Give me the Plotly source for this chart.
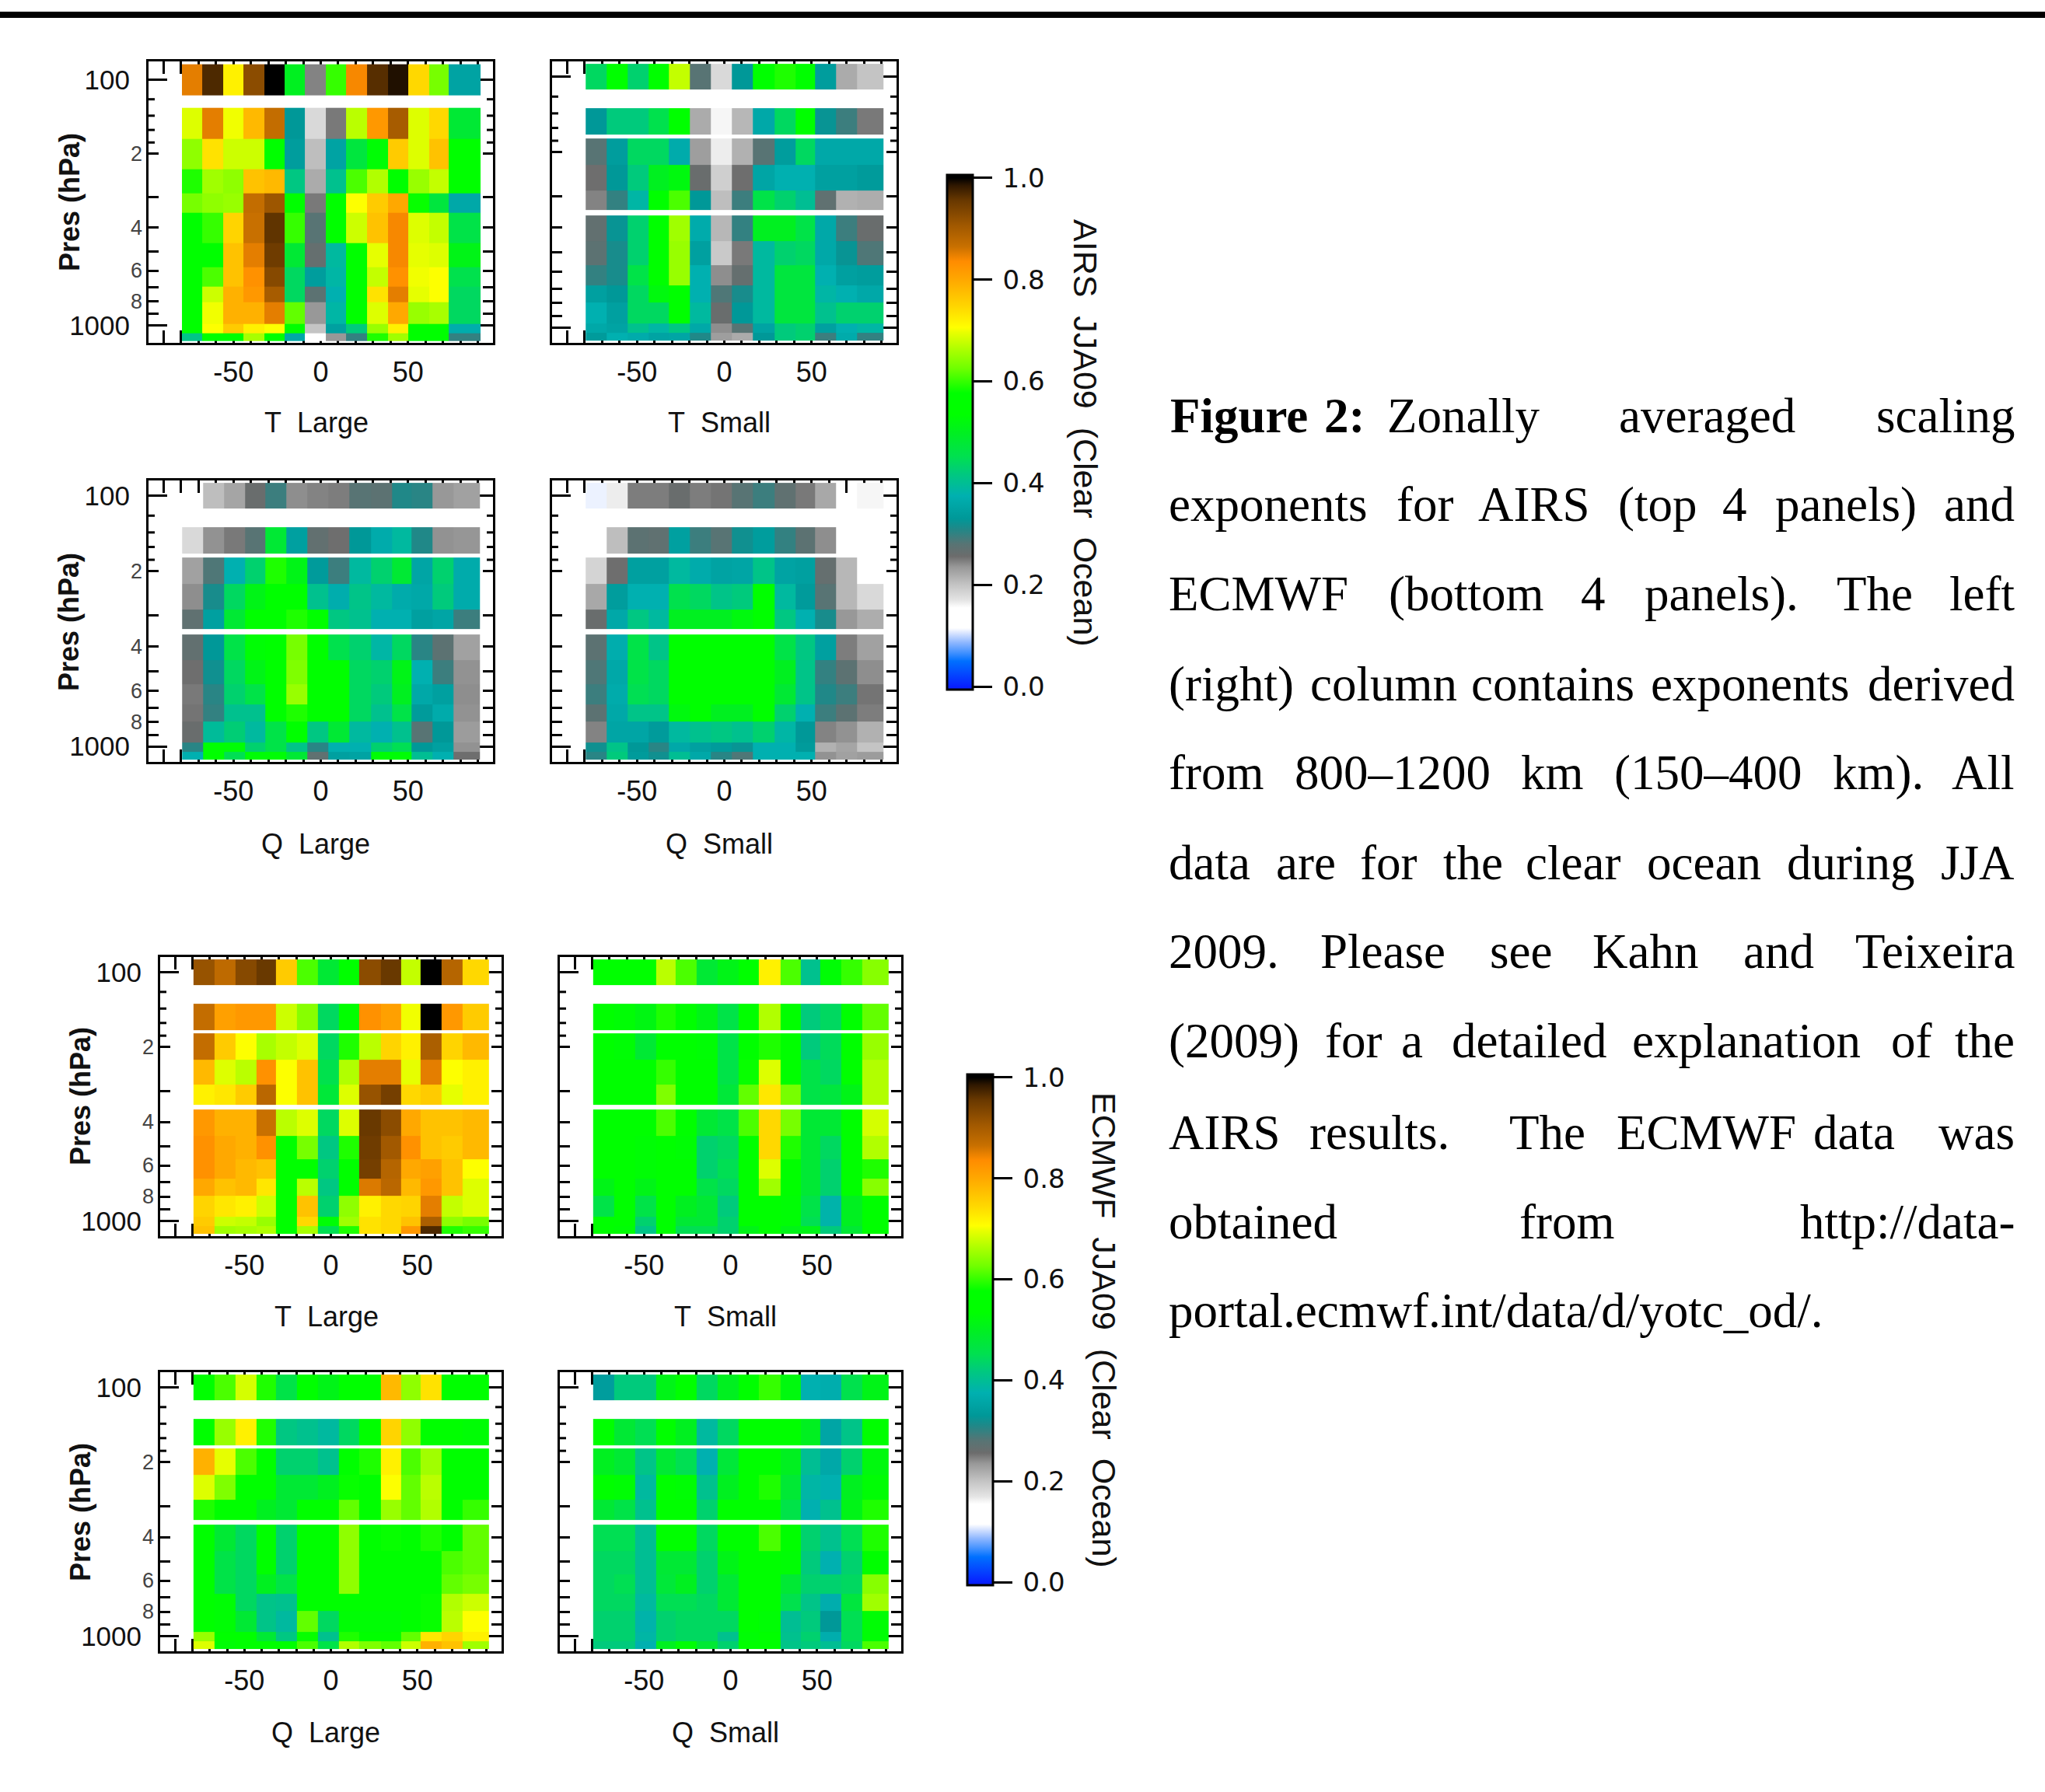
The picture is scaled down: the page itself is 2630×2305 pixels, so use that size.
import math
import plotly.graph_objects as go

W, H = 2630, 2305

LAT_EDGES = [-79.4,-67.3,-55.2,-43.2,-31.7,-19.7,-7.6,4.5,16.5,28.7,40.7,52,64,76.2,91.4]
LAT_EDGES_TL = [-79.5,-68,-56,-44.5,-32.5,-20.5,-9,3,14.5,26.5,38.5,50,62,73.5,91.5]
ROW_BOUNDS = [(88.8,112.7),(133.8,170.7),(176.4,225),(225,283.7),(283.7,341),(357.6,453.9),
              (453.9,566.8),(566.8,678),(678,795),(795,964.9),(964.9,1051),(1051,1132)]
ROW_BOUNDS_TL = [(86.4,115.7),(130,174),(174,232),(232,289),(289,348),(348,464),
                 (464,578),(578,698),(698,807),(807,986),(986,1076),(1076,1157)]

AIRS_T_LARGE = [
[.85,.97,.72,.925,1.0,.5,.245,.6,.84,.965,.99,.745,.63,.35],
[.69,.85,.70,.78,.87,.33,.18,.25,.67,.82,.9,.69,.745,.48],
[.645,.735,.68,.68,.57,.34,.205,.35,.47,.53,.76,.69,.77,.56],
[.59,.655,.645,.77,.78,.415,.22,.405,.61,.665,.56,.65,.675,.56],
[.63,.645,.65,.87,.91,.56,.25,.56,.705,.76,.8,.58,.47,.36],
[.55,.6,.75,.865,.96,.6,.28,.55,.68,.77,.84,.69,.675,.46],
[.55,.54,.77,.85,.95,.48,.265,.39,.55,.695,.84,.695,.69,.51],
[.55,.61,.77,.83,.93,.44,.34,.385,.55,.675,.83,.70,.705,.455],
[.55,.68,.79,.82,.9,.44,.275,.375,.55,.735,.85,.695,.705,.44],
[.55,.70,.79,.79,.85,.62,.235,.385,.55,.69,.8,.65,.66,.44],
[.55,.705,.76,.72,.705,.56,.2,.345,.42,.65,.72,.56,.56,.37],
[.41,.55,.56,.66,.57,.36,.15,.235,.3,.59,.655,.56,.56,.3],
]
AIRS_T_SMALL = [
[.44,.56,.43,.56,.675,.28,.18,.33,.56,.59,.55,.34,.22,.2],
[.33,.42,.42,.455,.55,.22,.16,.21,.36,.44,.55,.325,.295,.25],
[.28,.34,.44,.44,.365,.23,.165,.215,.28,.34,.44,.36,.36,.36],
[.255,.33,.42,.5,.52,.26,.19,.255,.355,.375,.375,.345,.345,.335],
[.245,.3,.385,.55,.61,.33,.205,.295,.46,.43,.4,.27,.215,.218],
[.268,.325,.43,.55,.655,.365,.21,.3,.5,.5,.46,.36,.295,.26],
[.275,.315,.43,.55,.65,.345,.195,.25,.39,.43,.44,.36,.325,.285],
[.3,.315,.46,.55,.65,.375,.24,.265,.39,.47,.47,.375,.345,.34],
[.345,.33,.44,.52,.54,.375,.285,.315,.39,.47,.47,.385,.375,.36],
[.375,.345,.44,.44,.54,.39,.26,.33,.39,.47,.47,.405,.43,.43],
[.36,.35,.405,.385,.415,.36,.24,.28,.35,.42,.43,.345,.375,.385],
[.335,.375,.365,.35,.355,.31,.23,.22,.33,.42,.43,.295,.365,.3],
]
AIRS_Q_LARGE = [
[None,.205,.225,.26,.295,.24,.245,.248,.28,.275,.31,.305,.235,.228],
[.18,.238,.25,.28,.48,.345,.268,.255,.33,.365,.39,.31,.238,.236],
[.228,.285,.375,.43,.59,.51,.335,.295,.39,.43,.48,.355,.43,.365],
[.24,.315,.44,.51,.54,.55,.405,.37,.41,.39,.365,.36,.42,.365],
[.27,.345,.48,.54,.54,.59,.55,.415,.405,.375,.375,.345,.355,.295],
[.268,.33,.46,.53,.55,.63,.55,.455,.43,.385,.44,.305,.275,.228],
[.255,.32,.44,.51,.55,.635,.55,.55,.44,.43,.51,.375,.295,.238],
[.25,.305,.43,.46,.55,.65,.55,.55,.44,.42,.5,.36,.345,.24],
[.252,.3,.405,.405,.54,.59,.56,.56,.44,.405,.46,.335,.365,.238],
[.26,.395,.425,.39,.46,.54,.415,.48,.39,.375,.405,.28,.33,.232],
[.305,.55,.53,.43,.46,.41,.305,.375,.375,.43,.45,.33,.345,.238],
[.375,.55,.45,.53,.53,.48,.27,.345,.35,.53,.53,.4,.375,.255],
]
AIRS_Q_SMALL = [
[.11,.165,.248,.248,.26,.248,.252,.28,.295,.27,.25,.222,None,.16],
[None,.205,.275,.27,.345,.295,.28,.32,.34,.3,.275,.24,None,None],
[.185,.255,.345,.345,.39,.365,.35,.355,.41,.35,.345,.265,.21,None],
[.222,.34,.375,.375,.455,.44,.41,.42,.55,.39,.335,.28,.21,.18],
[.26,.36,.415,.39,.5,.5,.5,.52,.55,.415,.375,.315,.235,.218],
[.275,.37,.46,.41,.55,.56,.56,.56,.55,.46,.415,.345,.248,.228],
[.285,.36,.46,.44,.55,.56,.56,.56,.55,.5,.41,.3,.275,.24],
[.295,.365,.45,.44,.55,.56,.56,.56,.55,.48,.41,.31,.295,.252],
[.275,.36,.41,.41,.52,.55,.5,.5,.55,.43,.375,.295,.275,.248],
[.245,.355,.355,.335,.39,.405,.415,.405,.43,.385,.33,.245,.238,.215],
[.32,.41,.33,.305,.36,.345,.335,.325,.375,.375,.335,.215,.225,.2],
[.305,.42,.335,.32,.4,.36,.305,.285,.375,.375,.375,.238,.228,.232],
]
ECMWF_T_LARGE = [
[.915,.875,.93,.955,.76,.61,.48,.54,.925,.955,.675,1.0,.885,.745],
[.87,.81,.82,.82,.68,.64,.44,.57,.83,.81,.70,1.0,.82,.76],
[.87,.76,.705,.66,.675,.69,.44,.59,.67,.75,.72,.895,.75,.78],
[.78,.69,.67,.83,.705,.77,.455,.665,.85,.85,.695,.85,.705,.72],
[.72,.73,.76,.88,.705,.77,.475,.69,.915,.945,.745,.76,.695,.72],
[.82,.79,.79,.865,.67,.69,.44,.69,.955,.925,.8,.77,.77,.78],
[.83,.8,.79,.83,.55,.63,.415,.59,.95,.905,.83,.77,.76,.78],
[.83,.8,.78,.77,.55,.56,.43,.55,.945,.885,.8,.81,.77,.705],
[.8,.77,.78,.73,.55,.67,.415,.54,.855,.88,.78,.82,.77,.69],
[.75,.73,.72,.68,.55,.77,.43,.645,.72,.745,.75,.85,.675,.69],
[.76,.68,.675,.65,.55,.745,.53,.655,.735,.745,.77,.895,.645,.63],
[.77,.655,.66,.665,.55,.66,.45,.59,.735,.745,.82,.97,.59,.6],
]
ECMWF_T_SMALL = [
[.55,.55,.55,.67,.61,.48,.51,.54,.72,.61,.405,.53,.6,.64],
[.55,.53,.515,.59,.55,.51,.46,.55,.665,.55,.42,.44,.55,.62],
[.55,.53,.48,.55,.55,.53,.46,.55,.59,.55,.42,.445,.55,.65],
[.55,.55,.55,.6,.55,.55,.46,.58,.69,.55,.46,.44,.55,.665],
[.55,.55,.55,.635,.55,.55,.475,.62,.73,.63,.46,.47,.51,.665],
[.55,.55,.55,.61,.55,.48,.46,.61,.745,.63,.48,.48,.55,.685],
[.55,.55,.53,.57,.53,.43,.44,.55,.745,.59,.48,.44,.55,.665],
[.55,.55,.53,.55,.55,.43,.45,.55,.69,.57,.48,.43,.55,.59],
[.51,.55,.51,.55,.55,.46,.44,.55,.655,.55,.48,.43,.55,.64],
[.46,.55,.46,.55,.5,.48,.42,.55,.55,.53,.46,.38,.5,.55],
[.55,.55,.43,.55,.48,.48,.43,.55,.55,.53,.45,.38,.5,.55],
[.55,.53,.41,.55,.45,.45,.43,.51,.55,.51,.51,.42,.48,.55],
]
ECMWF_Q_LARGE = [
[.55,.61,.685,.59,.46,.55,.51,.55,.55,.78,.645,.735,.55,.55],
[.55,.65,.72,.59,.415,.405,.39,.44,.55,.75,.645,.55,.55,.53],
[.79,.695,.61,.55,.43,.43,.405,.55,.59,.72,.61,.655,.55,.55],
[.69,.635,.55,.55,.48,.48,.5,.58,.57,.705,.62,.67,.55,.55],
[.59,.55,.55,.5,.48,.55,.55,.62,.55,.65,.62,.665,.55,.6],
[.55,.48,.44,.55,.43,.55,.55,.645,.55,.58,.55,.59,.55,.62],
[.55,.46,.44,.55,.43,.55,.55,.645,.55,.55,.55,.55,.61,.62],
[.55,.46,.44,.5,.46,.55,.57,.645,.55,.55,.55,.55,.62,.63],
[.55,.53,.44,.41,.405,.55,.55,.55,.55,.55,.55,.58,.665,.68],
[.55,.53,.48,.41,.39,.62,.44,.53,.53,.53,.55,.58,.67,.705],
[.65,.55,.55,.48,.415,.58,.405,.59,.57,.55,.62,.73,.75,.72],
[.69,.53,.55,.55,.55,.61,.46,.665,.635,.62,.68,.79,.77,.655],
]
ECMWF_Q_SMALL = [
[.34,.42,.42,.51,.55,.44,.5,.55,.6,.52,.375,.37,.455,.51],
[.55,.48,.45,.55,.5,.39,.44,.55,.55,.55,.5,.355,.41,.55],
[.5,.48,.41,.48,.45,.375,.475,.55,.55,.5,.4,.36,.43,.52],
[.55,.53,.39,.55,.53,.405,.5,.55,.59,.48,.385,.375,.5,.53],
[.48,.46,.405,.55,.55,.43,.55,.55,.55,.46,.375,.405,.51,.59],
[.45,.45,.4,.55,.55,.44,.55,.55,.61,.55,.43,.405,.45,.59],
[.44,.44,.4,.48,.48,.43,.51,.55,.55,.53,.42,.375,.43,.55],
[.44,.45,.4,.475,.5,.43,.48,.55,.55,.48,.43,.43,.44,.64],
[.44,.44,.39,.45,.45,.44,.48,.55,.55,.455,.41,.37,.47,.655],
[.43,.43,.38,.43,.44,.44,.44,.55,.53,.4,.42,.33,.45,.53],
[.43,.43,.385,.43,.44,.44,.405,.53,.55,.405,.43,.37,.45,.53],
[.42,.42,.375,.5,.53,.48,.43,.55,.55,.41,.42,.4,.44,.61],
]

COLOR_STOPS = [(0,"#0820ff"),(.05,"#0070ff"),(.066,"#4090ff"),(.087,"#90b8ff"),(.105,"#d8e4ff"),
 (.115,"#ffffff"),(.155,"#ffffff"),(.17,"#e4e4e4"),(.2,"#c4c4c4"),(.235,"#989898"),(.256,"#6c6c6c"),
 (.28,"#587474"),(.31,"#208888"),(.33,"#009898"),(.375,"#00b0b0"),(.417,"#00c880"),(.452,"#00e050"),
 (.5,"#00f020"),(.535,"#00ff00"),(.577,"#00ff00"),(.626,"#70ff00"),(.66,"#a8ff00"),(.696,"#e8ff00"),
 (.706,"#ffff00"),(.745,"#ffd800"),(.8,"#ffa800"),(.836,"#ff8c00"),(.865,"#c87000"),(.907,"#a05800"),
 (.956,"#683800"),(.985,"#301800"),(1,"#000000")]
CMIN, CMAX = -0.006, 1.006

PANELS = [
 (AIRS_T_LARGE, "T\u00a0\u00a0Large", (188,637,76,444), 407,543, 89,260, LAT_EDGES_TL, ROW_BOUNDS_TL, (82.3,1206), "coloraxis"),
 (AIRS_T_SMALL, "T\u00a0\u00a0Small", (707,1156,76,444), 925,543, None,None, LAT_EDGES, ROW_BOUNDS, (85,1178), "coloraxis"),
 (AIRS_Q_LARGE, "Q\u00a0\u00a0Large", (188,637,615,983), 406,1085, 88,800, LAT_EDGES, ROW_BOUNDS, (85,1178), "coloraxis"),
 (AIRS_Q_SMALL, "Q\u00a0\u00a0Small", (707,1156,615,983), 925,1085, None,None, LAT_EDGES, ROW_BOUNDS, (85,1178), "coloraxis"),
 (ECMWF_T_LARGE, "T\u00a0\u00a0Large", (203,648,1228,1593), 420,1693, 103,1410, LAT_EDGES, ROW_BOUNDS, (85,1178), "coloraxis2"),
 (ECMWF_T_SMALL, "T\u00a0\u00a0Small", (717,1162,1228,1593), 933,1693, None,None, LAT_EDGES, ROW_BOUNDS, (85,1178), "coloraxis2"),
 (ECMWF_Q_LARGE, "Q\u00a0\u00a0Large", (203,648,1762,2127), 419,2228, 103,1945, LAT_EDGES, ROW_BOUNDS, (85,1178), "coloraxis2"),
 (ECMWF_Q_SMALL, "Q\u00a0\u00a0Small", (717,1162,1762,2127), 933,2228, None,None, LAT_EDGES, ROW_BOUNDS, (85,1178), "coloraxis2"),
]

X_TICKS = list(range(-90, 100, 10))
X_LABELS = {-50: "-50", 0: "0", 50: "50"}
Y_MAJOR = [100, 1000]
Y_MID = [200, 300, 400, 500, 600, 700, 800, 900]
Y_SHORT = [120, 140, 160, 180]
Y_SMALL_LABELS = {200: "2", 400: "4", 600: "6", 800: "8"}

SANS = "Liberation Sans"
layout = dict(width=W, height=H, autosize=False, margin=dict(l=0, r=0, t=0, b=0),
              paper_bgcolor="white", plot_bgcolor="white", showlegend=False)
annotations, shapes, traces = [], [], []

def px(x): return x / W
def py(y): return 1 - y / H

LINE = 3  # the axis line sits outside the plot area, so inset the domain by its width
for i, (data, label, (l, r, t, b), lx, ly, tx, ty, lats, rows, prange, cax) in enumerate(PANELS):
    n = "" if i == 0 else str(i + 1)
    edges, z = [rows[0][0]], []
    for (lo, hi), vals in zip(rows, data):
        if lo > edges[-1]:
            edges.append(lo)
            z.append([None] * len(vals))
        edges.append(hi)
        z.append(vals)
    traces.append(go.Heatmap(x=lats, y=edges, z=z, xaxis="x" + n, yaxis="y" + n, coloraxis=cax,
                             hoverongaps=False))
    # the range is trimmed with the domain, so that data stay where the outer frame implies
    xspan = 100 * (r - l - 2 * LINE) / (r - l)
    log_lo, log_hi = math.log10(prange[0]), math.log10(prange[1])
    logtrim = (log_hi - log_lo) * LINE / (b - t)
    layout["xaxis" + n] = dict(
        domain=[px(l + LINE), px(r - LINE)], range=[-xspan, xspan], anchor="y" + n, showgrid=False, zeroline=False,
        showline=True, linecolor="black", linewidth=LINE, mirror="ticks", ticks="inside", ticklen=16,
        tickwidth=3, tickcolor="black", tickmode="array", tickvals=X_TICKS,
        ticktext=[X_LABELS.get(v, "") for v in X_TICKS], tickangle=0, ticklabelstandoff=4,
        tickfont=dict(family=SANS, size=36, color="#111"), layer="below traces")
    layout["yaxis" + n] = dict(
        domain=[py(b - LINE), py(t + LINE)], type="log", range=[log_hi - logtrim, log_lo + logtrim],
        anchor="x" + n, showgrid=False, zeroline=False, showline=True, linecolor="black",
        linewidth=LINE, mirror="ticks", ticks="inside", ticklen=24, tickwidth=3, tickcolor="black",
        tickmode="array", tickvals=Y_MAJOR,
        ticktext=[str(v) if tx is not None else "" for v in Y_MAJOR], ticklabelstandoff=14,
        tickfont=dict(family=SANS, size=35, color="#111"), layer="below traces",
        minor=dict(ticks="inside", ticklen=13, tickwidth=3, tickcolor="black",
                   tickmode="array", tickvals=Y_MID))
    w = r - l - 2 * LINE
    for v in Y_SHORT:
        for x0, x1 in ((0, 8 / w), (1 - 8 / w, 1)):
            shapes.append(dict(type="line", xref=f"x{n} domain", yref="y" + n, x0=x0, x1=x1, y0=v, y1=v,
                               line=dict(color="black", width=3)))
    annotations.append(dict(text=label, xref="paper", yref="paper", x=px(lx), y=py(ly), showarrow=False,
                            xanchor="center", yanchor="middle", font=dict(family=SANS, size=36, color="#111")))
    if tx is not None:
        annotations.append(dict(text="<b>Pres (hPa)</b>", xref="paper", yref="paper", x=px(tx), y=py(ty), showarrow=False,
                                textangle=-90, xanchor="center", yanchor="middle",
                                font=dict(family=SANS, size=36, color="#111")))
        for v, s in Y_SMALL_LABELS.items():
            annotations.append(dict(text=s, xref="paper", yref="y" + n, x=px(l - 3), y=math.log10(v), showarrow=False,
                                    xanchor="right", yanchor="middle", font=dict(family=SANS, size=27, color="#444")))

def colorbar(x0, x1, y0, y1):
    return dict(x=px(x0), xanchor="left", xref="paper", y=py(y1), yanchor="bottom", yref="paper",
                lenmode="pixels", len=y1 - y0, thicknessmode="pixels", thickness=x1 - x0, xpad=0, ypad=0,
                outlinecolor="black", outlinewidth=3, ticks="outside", ticklen=24, tickwidth=3, tickcolor="black",
                tickmode="array", tickvals=[0, .2, .4, .6, .8, 1],
                ticktext=["\u2009" + s for s in ("0.0", "0.2", "0.4", "0.6", "0.8", "1.0")],
                tickfont=dict(family="DejaVu Sans", size=34, color="#111"), ticklabelposition="outside", bgcolor="rgba(0,0,0,0)")

scale = [[(v - CMIN) / (CMAX - CMIN), c] for v, c in COLOR_STOPS]
scale = [[0, COLOR_STOPS[0][1]]] + scale + [[1, COLOR_STOPS[-1][1]]]
layout["coloraxis"] = dict(cmin=CMIN, cmax=CMAX, colorscale=scale, colorbar=colorbar(1218, 1251, 225, 887))
layout["coloraxis2"] = dict(cmin=CMIN, cmax=CMAX, colorscale=scale, colorbar=colorbar(1244, 1277, 1382, 2039))

for text, xc, yc in (("AIRS\u00a0\u00a0JJA09\u00a0\u00a0(Clear\u00a0\u00a0Ocean)", 1396, 557),
                     ("ECMWF\u00a0\u00a0JJA09\u00a0\u00a0(Clear\u00a0\u00a0Ocean)", 1420, 1711)):
    annotations.append(dict(text=text, xref="paper", yref="paper", x=px(xc), y=py(yc), showarrow=False,
                            textangle=90, xanchor="center", yanchor="middle",
                            font=dict(family=SANS, size=43, color="#111")))

shapes.append(dict(type="line", xref="paper", yref="paper", x0=0, x1=1, y0=py(19), y1=py(19),
                   line=dict(color="black", width=8)))

RIGHT_EDGE = 2592
CAPTION = [
 (551, [("<b>Figure</b>",1504),("<b>2:</b>",1702),("Zonally",1783),("averaged",2081),("scaling",None)]),
 (665, [("exponents",1502),("for",1795),("AIRS",1900),("(top",2080),("4",2214),("panels)",2282),("and",None)]),
 (780, [("ECMWF",1502),("(bottom",1785),("4",2032),("panels).",2114),("The",2361),("left",None)]),
 (896, [("(right)",1502),("column",1684),("contains",1891),("exponents",2122),("derived",None)]),
 (1010, [("from",1502),("800\u20131200",1664),("km",1955),("(150\u2013400",2075),("km).",2356),("All",None)]),
 (1126, [("data",1502),("are",1640),("for",1748),("the",1855),("clear",1961),("ocean",2117),("during",2297),("JJA",None)]),
 (1240, [("2009.",1502),("Please",1697),("see",1915),("Kahn",2047),("and",2241),("Teixeira",None)]),
 (1355, [("(2009)",1502),("for",1703),("a",1801),("detailed",1866),("explanation",2098),("of",2431),("the",None)]),
 (1473, [("AIRS",1502),("results.",1683),("The",1940),("ECMWF",2078),("data",2331),("was",None)]),
 (1588, [("obtained",1502),("from",1953),("http://data-",None)]),
 (1702, [("portal.ecmwf.int/data/d/yotc_od/.",1502)]),
]
for base, words in CAPTION:
    for word, x in words:
        annotations.append(dict(text=word, xref="paper", yref="paper",
                                x=px(x if x is not None else RIGHT_EDGE), y=py(base - 16), showarrow=False,
                                xanchor="left" if x is not None else "right", yanchor="middle", borderpad=0,
                                font=dict(family="Liberation Serif", size=63, color="black")))

layout["annotations"] = annotations
layout["shapes"] = shapes
fig = go.Figure(data=traces, layout=layout)
fig.write_html("out.html", config={"displayModeBar": False},
               post_script="document.body.style.margin='0';document.documentElement.style.overflow='hidden';")
